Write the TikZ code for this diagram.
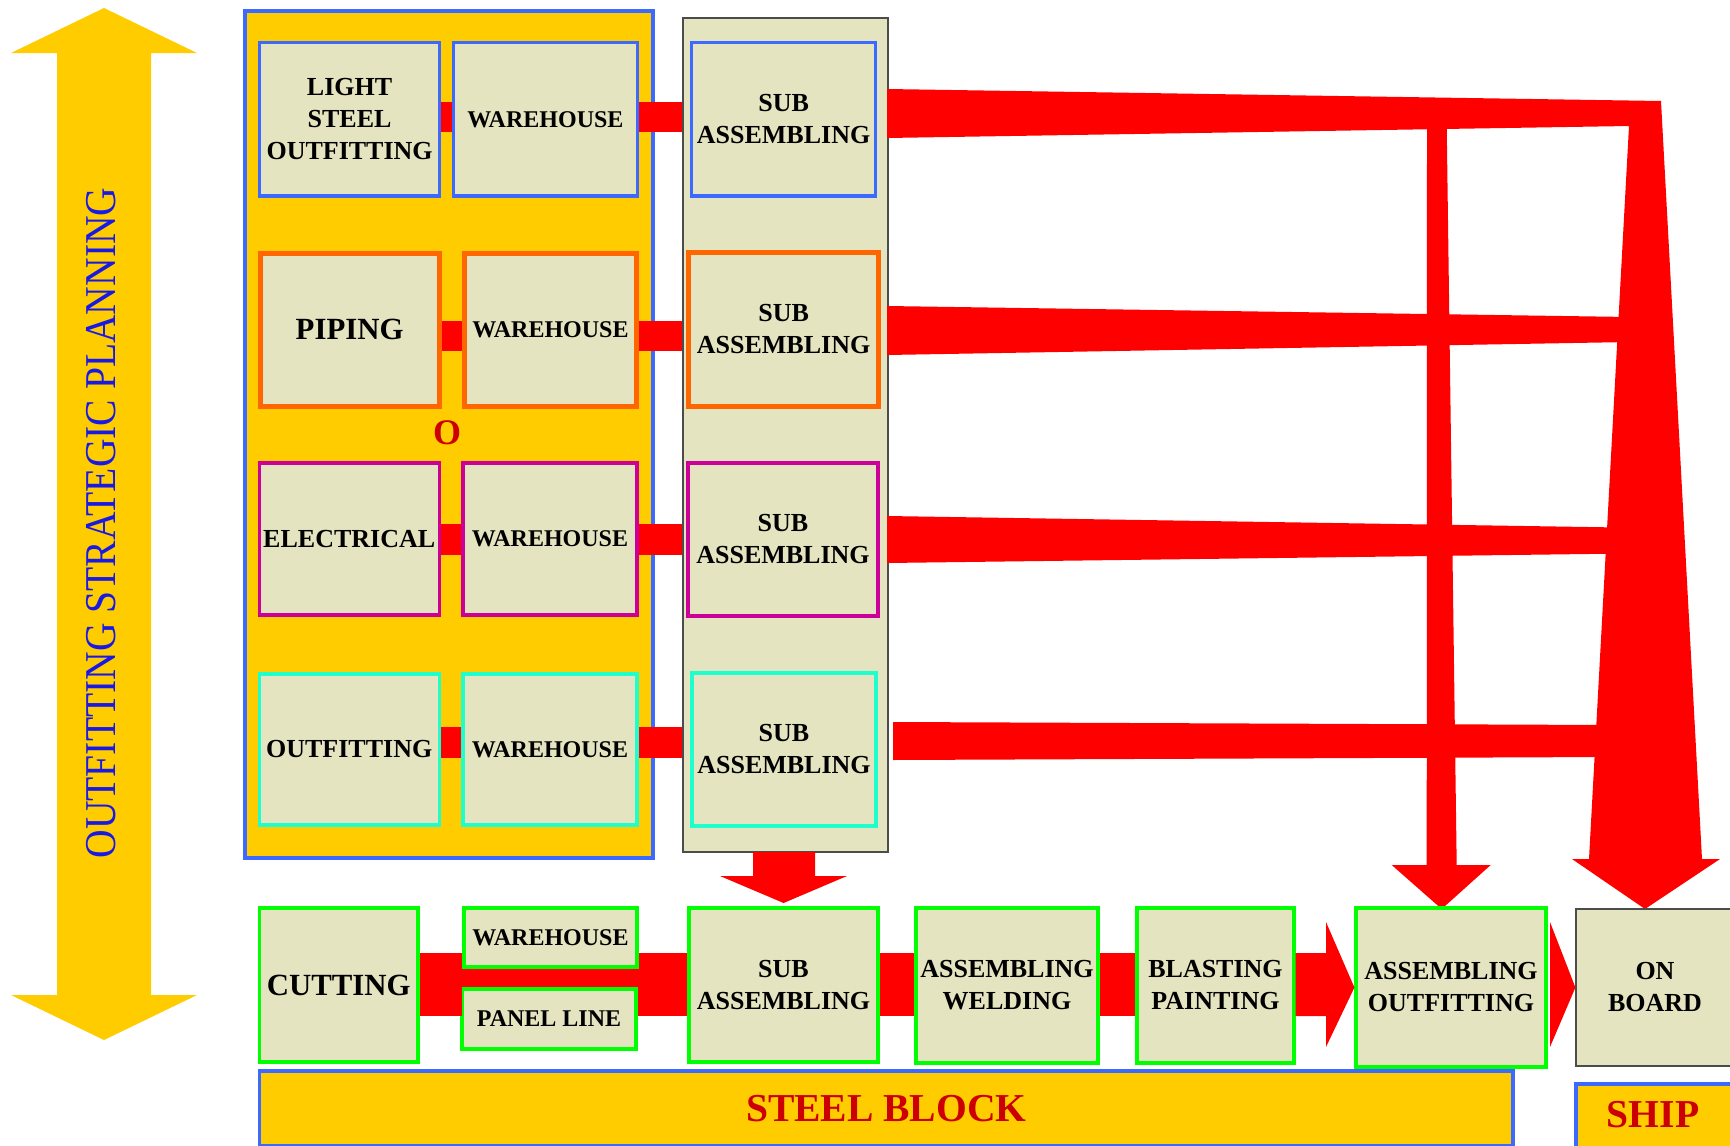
\documentclass[tikz,border=0pt]{standalone}
\usepackage{fontspec}
\setmainfont{Liberation Serif}
\usetikzlibrary{calc}
\definecolor{ylw}{RGB}{255,204,0}
\definecolor{tan}{RGB}{229,228,192}
\definecolor{bblue}{RGB}{60,105,255}
\definecolor{borange}{RGB}{255,102,0}
\definecolor{bmag}{RGB}{204,0,153}
\definecolor{bcyan}{RGB}{30,255,205}
\definecolor{bgreen}{RGB}{0,255,0}
\definecolor{redc}{RGB}{255,0,0}
\definecolor{dred}{RGB}{204,0,0}
\definecolor{tblue}{RGB}{25,25,230}
\tikzset{
  box/.style={draw, line width=1.6pt, fill=tan, inner sep=0pt, align=center, text=black,
    font=\fontsize{13}{16}\selectfont\bfseries},
  obox/.style={box, draw=borange, line width=2.4pt},
  whf/.style={font=\fontsize{12}{15}\selectfont\bfseries},
  bigf/.style={font=\fontsize{15.4}{18}\selectfont\bfseries},
  lbl/.style={font=\fontsize{19.8}{22}\selectfont\bfseries, text=dred},
}
\begin{document}
\begin{tikzpicture}[x=0.5pt,y=-0.5pt]
\useasboundingbox (0,0) rectangle (1730,1146);
\fill[white] (0,0) rectangle (1730,1146);

% left double arrow
\fill[ylw] (104,8) -- (197,53) -- (151,53) -- (151,995) -- (197,995) -- (104,1040)
  -- (11,995) -- (57,995) -- (57,53) -- (11,53) -- cycle;
\node[rotate=90, text=tblue, font=\fontsize{22}{24}\selectfont, inner sep=0pt] (plan) at (101.5,523)
  {\scalebox{0.9}[1]{OUTFITTING STRATEGIC PLANNING}};

% containers
\node[draw=bblue, line width=1.8pt, fill=ylw, minimum width=204pt, minimum height=423.5pt, inner sep=0pt] (ybox) at (449,434.5) {};
\node[draw=black!70, line width=0.6pt, fill=tan, minimum width=102.5pt, minimum height=417pt, inner sep=0pt] (col) at (785.5,435) {};

% big red structure on the right
\fill[redc] (887,89) -- (1661,101) -- (1702,859) -- (1720,859) -- (1645,909) -- (1572,859)
  -- (1589,859) -- (1629,126) -- (887,138) -- cycle;
\fill[redc] (887,306) -- (1630,317) -- (1630,342) -- (887,355) -- cycle;
\fill[redc] (887,516) -- (1620,527.5) -- (1620,553.6) -- (887,563) -- cycle;
\fill[redc] (893,722) -- (1610,725) -- (1610,757) -- (893,760) -- cycle;
\fill[redc] (1427,125) -- (1446.7,125) -- (1456.7,865) -- (1490.7,865) -- (1441.7,909)
  -- (1391.7,865) -- (1426.7,865) -- cycle;

% down arrow below the column
\fill[redc] (753,852) -- (753,876) -- (720,876) -- (783.6,903) -- (847,876) -- (815,876) -- (815,852) -- cycle;

% boxes row 1
\node[box, draw=bblue, minimum width=90.1pt, minimum height=76.6pt] (lso) at (349.6,119.4) {LIGHT\\STEEL\\OUTFITTING};
\node[box, whf, draw=bblue, minimum width=91.8pt, minimum height=76.6pt] (wh1) at (545.4,119.4) {WAREHOUSE};
\node[box, draw=bblue, minimum width=91.8pt, minimum height=76.6pt] (sa1) at (783.6,119.4) {SUB\\ASSEMBLING};
% row 2
\node[obox, bigf, minimum width=89.5pt, minimum height=76.5pt] (pip) at (349.6,329.7) {PIPING};
\node[obox, whf, minimum width=86pt, minimum height=76.5pt] (wh2) at (550.5,329.7) {WAREHOUSE};
\node[obox, minimum width=95pt, minimum height=77pt] (sa2) at (783.6,329.5) {SUB\\ASSEMBLING};
% row 3
\node[box, draw=bmag, minimum width=90pt, minimum height=76pt] (elec) at (349.2,539) {ELECTRICAL};
\node[box, whf, draw=bmag, minimum width=87pt, minimum height=76pt] (wh3) at (550,539) {WAREHOUSE};
\node[box, draw=bmag, minimum width=95pt, minimum height=76.5pt] (sa3) at (783,539.5) {SUB\\ASSEMBLING};
% row 4
\node[box, draw=bcyan, minimum width=90pt, minimum height=75.5pt] (out) at (349.2,749.5) {OUTFITTING};
\node[box, whf, draw=bcyan, minimum width=87pt, minimum height=75.5pt] (wh4) at (550,749.5) {WAREHOUSE};
\node[box, draw=bcyan, minimum width=92pt, minimum height=76.5pt] (sa4) at (784,749.5) {SUB\\ASSEMBLING};

% small connectors in the outfitting area
\fill[redc] ($(lso.east)+(0,-17.7)$) rectangle ($(wh1.west)+(0,12.3)$);
\fill[redc] ($(wh1.east)+(0,-17.7)$) rectangle ($(wh1.east -| col.west)+(0,12.3)$);
\fill[redc] ($(pip.east)+(0,-8.7)$) rectangle ($(wh2.west)+(0,21.3)$);
\fill[redc] ($(wh2.east)+(0,-8.7)$) rectangle ($(wh2.east -| col.west)+(0,21.3)$);
\fill[redc] ($(elec.east)+(0,-15)$) rectangle ($(wh3.west)+(0,16)$);
\fill[redc] ($(wh3.east)+(0,-15)$) rectangle ($(wh3.east -| col.west)+(0,16)$);
\fill[redc] ($(out.east)+(0,-22.5)$) rectangle ($(wh4.west)+(0,8.5)$);
\fill[redc] ($(wh4.east)+(0,-22.5)$) rectangle ($(wh4.east -| col.west)+(0,8.5)$);

\node[text=dred, font=\fontsize{18}{20}\selectfont\bfseries, inner sep=0pt] (o) at (447,432.5) {O};

% bottom row
\fill[redc] (418,952.7) rectangle (689,1015.5);
\node[box, bigf, draw=bgreen, minimum width=79.2pt, minimum height=77pt] (cut) at (338.8,985) {CUTTING};
\node[box, whf, draw=bgreen, minimum width=86.5pt, minimum height=29.5pt] (whb) at (550.5,937.5) {WAREHOUSE};
\node[box, whf, draw=bgreen, minimum width=87pt, minimum height=30pt] (pan) at (549,1019) {PANEL LINE};
\node[box, draw=bgreen, minimum width=94.5pt, minimum height=77pt] (sab) at (783.5,985) {SUB\\ASSEMBLING};
\node[box, draw=bgreen, minimum width=91pt, minimum height=77.5pt] (aw) at (1007,985.5) {ASSEMBLING\\WELDING};
\node[box, draw=bgreen, minimum width=78.5pt, minimum height=77.5pt] (bp) at (1215.5,985.5) {BLASTING\\PAINTING};
\node[box, draw=bgreen, minimum width=95pt, minimum height=79.5pt] (ao) at (1451,987.5) {ASSEMBLING\\OUTFITTING};
\node[box, draw=black!70, line width=0.6pt, minimum width=79pt, minimum height=78.5pt] (onb) at (1655,987.5) {ON\\BOARD};

\fill[redc] ($(cut.east)+(0,-32.3)$) rectangle ($(whb.west |- cut.east)+(0,30.5)$);
\fill[redc] ($(sab.east)+(0,-32.3)$) rectangle ($(aw.west |- sab.east)+(0,31)$);
\fill[redc] ($(aw.east)+(0,-32.5)$) rectangle ($(bp.west |- aw.east)+(0,30.5)$);
\fill[redc] ($(bp.east)+(0,-32.5)$) -- (1326,953) -- (1326,922) -- (ao.west) -- (1326,1047)
  -- (1326,1016) -- ($(bp.east)+(0,30.5)$) -- cycle;
\fill[redc] (1550,922) -- (onb.west) -- (1550,1047) -- cycle;

% bottom labels
\node[draw=bblue, line width=1.8pt, fill=ylw, minimum width=626.8pt, minimum height=37.5pt, inner sep=0pt, lbl] (steel) at (886.3,1108.5) {STEEL BLOCK};
\node[draw=bblue, line width=1.8pt, fill=ylw, minimum width=82pt, minimum height=34pt, inner sep=0pt] (shipbox) at (1658,1118) {};
\node[lbl, inner sep=0pt] (ship) at (1653,1115) {SHIP};
\end{tikzpicture}
\end{document}
